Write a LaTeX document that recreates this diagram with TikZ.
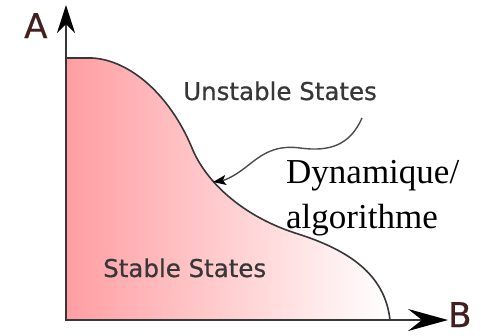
\documentclass[tikz,border=0pt]{standalone}
\usepackage{fontspec}
\setmainfont{Liberation Serif}
\newfontfamily\sansf[FakeBold=0.6]{DejaVu Sans}
\usetikzlibrary{arrows.meta}
\definecolor{pinkL}{RGB}{255,158,162}
\definecolor{textgray}{RGB}{55,55,55}
\definecolor{linegray}{RGB}{55,55,55}
\definecolor{axisletter}{RGB}{64,32,32}
\tikzset{
  lbl/.style={inner sep=0pt, anchor=base west, text=textgray, font=\sansf\fontsize{24.5}{26}\selectfont},
  serifl/.style={inner sep=0pt, anchor=base west, text=black, font=\fontsize{35}{38}\selectfont},
  axislbl/.style={inner sep=0pt, anchor=base west, text=axisletter, font=\sansf\fontsize{34}{34}\selectfont},
  axisline/.style={draw=linegray, line width=2.5pt},
  boundary/.style={draw=linegray, line width=1.6pt, left color=pinkL, right color=white},
  wave/.style={draw=linegray!90, line width=1.4pt, -{Stealth[length=13pt,width=10pt,inset=3pt,color=black]}}
}
\begin{document}
\begin{tikzpicture}[x=1pt,y=-1pt]
\useasboundingbox (0,0) rectangle (481,335);
% shaded region with boundary curve
\path[boundary] (66,320) -- (66,58) -- (92,58)
  .. controls (130,60) and (170,95) .. (192,148)
  .. controls (205,180) and (240,215) .. (295,233)
  .. controls (350,250) and (385,275) .. (390,320) -- cycle;
% axes
\coordinate (O) at (66,320);
\coordinate (Atip) at (66,5);
\coordinate (Btip) at (448,320);
\draw[axisline, -{Stealth[length=28pt,width=18pt,inset=9pt,color=black]}] (O) -- (Atip);
\draw[axisline, -{Stealth[length=40pt,width=22pt,inset=14pt,color=black]}] (O) -- (Btip);
% labels
\node[axislbl] (A) at (24,38) {A};
\node[axislbl] (B) at (448,327) {B};
\node[lbl] (U) at (183,100) {Unstable States};
\node[lbl] (S) at (103,277) {Stable States};
\node[serifl] (D1) at (286,183) {Dynamique/};
\node[serifl] (D2) at (286,228) {algorithme};
% wavy arrow
\coordinate (w0) at (362,118);
\coordinate (w1) at (213,182);
\draw[wave] (w0) .. controls (350,145) and (330,152) .. (300,148)
  .. controls (272,144) and (258,158) .. (246,167)
  .. controls (236,175) and (226,180) .. (w1);
\end{tikzpicture}
\end{document}
